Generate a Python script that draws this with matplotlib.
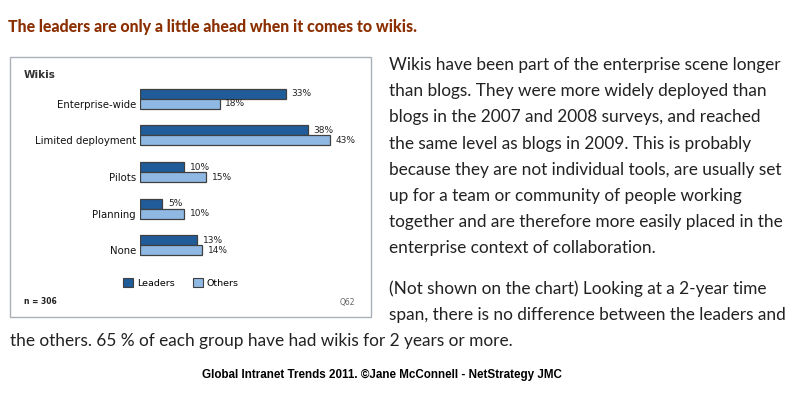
import numpy as np
import matplotlib.pyplot as plt
from matplotlib.patches import Rectangle

# data
categories = ['Enterprise-wide', 'Limited deployment', 'Pilots', 'Planning', 'None']
leaders = [33, 38, 10, 5, 13]
others = [18, 43, 15, 10, 14]
series_names = ['Leaders', 'Others']

title = 'The leaders are only a little ahead when it comes to wikis.'
para1 = ['Wikis have been part of the enterprise scene longer',
         'than blogs. They were more widely deployed than',
         'blogs in the 2007 and 2008 surveys, and reached',
         'the same level as blogs in 2009. This is probably',
         'because they are not individual tools, are usually set',
         'up for a team or community of people working',
         'together and are therefore more easily placed in the',
         'enterprise context of collaboration.']
para2 = ['(Not shown on the chart) Looking at a 2-year time',
         'span, there is no difference between the leaders and',
         'the others. 65 % of each group have had wikis for 2 years or more.']
footer = 'Global Intranet Trends 2011. \u00a9Jane McConnell - NetStrategy JMC'

W, H = 799, 397
fig = plt.figure(figsize=(W / 100, H / 100), dpi=100, facecolor='white')

def fx(px):
    return px / W

def fy(py):
    return 1 - py / H

# chart frame
fig.patches.append(Rectangle((fx(10), fy(317)), fx(361), (317 - 57) / H,
                             transform=fig.transFigure, fill=False,
                             edgecolor='#a9b0b8', linewidth=1.0))

# bar axes: x 140..361 px, y 80..260 px
ax = fig.add_axes([fx(140), fy(260), fx(221), 180 / H])
y = np.arange(len(categories))
h = 0.273
ax.barh(y - h / 2, leaders, height=h, color='#1f5c99', edgecolor='#404040', linewidth=0.9)
ax.barh(y + h / 2, others, height=h, color='#8fb9e3', edgecolor='#404040', linewidth=0.9)
ax.set_xlim(0, 50)
ax.set_ylim(4.404, -0.514)
for i in range(len(categories)):
    ax.text(leaders[i] + 1.3, y[i] - h / 2, f'{leaders[i]}%', va='center', ha='left',
            fontsize=6.5, color='#222222')
    ax.text(others[i] + 1.3, y[i] + h / 2, f'{others[i]}%', va='center', ha='left',
            fontsize=6.5, color='#222222')
ax.set_yticks(y + h / 2)
ax.set_yticklabels(categories, fontsize=7.3, color='#111111')
ax.tick_params(axis='y', length=0, pad=3)
ax.set_xticks([])
for s in ax.spines.values():
    s.set_visible(False)
ax.patch.set_alpha(0)

# legend
handles = [Rectangle((0, 0), 1, 1, facecolor=c, edgecolor='#404040', linewidth=0.8)
           for c in ['#1f5c99', '#8fb9e3']]
fig.legend(handles, series_names, loc='center', bbox_to_anchor=(fx(181), fy(283)),
           ncol=2, frameon=False, fontsize=6.8, handlelength=1.0, handleheight=1.0,
           handletextpad=0.4, columnspacing=2.0)

fig.text(fx(24), fy(75), 'Wikis', fontsize=7.5, fontweight='bold', color='#333333',
         ha='left', va='center')
fig.text(fx(24), fy(302), 'n = 306', fontsize=5.5, fontweight='bold', color='#222222',
         ha='left', va='center')
fig.text(fx(340), fy(302), 'Q62', fontsize=5.5, color='#666666', ha='left', va='center')

# title
fig.text(fx(8), fy(27), title, fontsize=11.4, fontweight='black', color='#8b2e00',
         family='Lato', ha='left', va='center')

# body text
for k, line in enumerate(para1):
    fig.text(fx(389), fy(65 + 26.2 * k), line, fontsize=12.4, color='#222222',
             family='Lato', ha='left', va='center')
for k, line in enumerate(para2):
    x0 = 389 if k < 2 else 10
    fig.text(fx(x0), fy(289 + 26 * k), line, fontsize=12.4, color='#222222',
             family='Lato', ha='left', va='center')

fig.text(fx(382), fy(375), footer, fontsize=8.4, fontweight='bold', color='#000000',
         family='Liberation Sans', ha='center', va='center')

fig.savefig('out.png', dpi=100, facecolor='white')
